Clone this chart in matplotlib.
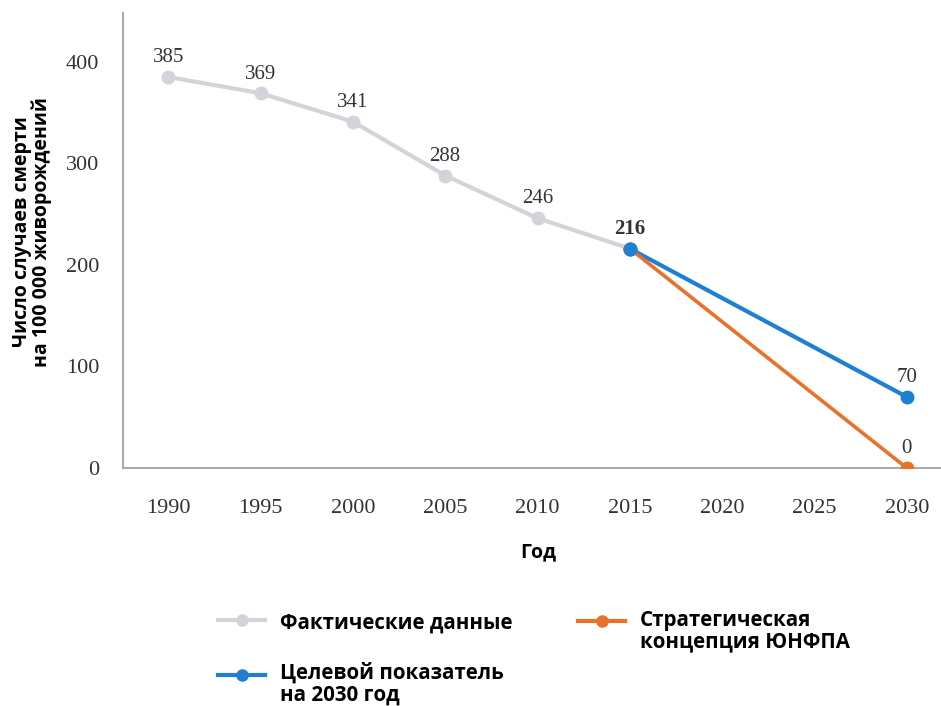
import numpy as np
import matplotlib
matplotlib.use('Agg')
import matplotlib.pyplot as plt
from matplotlib.lines import Line2D

# data
years_actual = [1990, 1995, 2000, 2005, 2010, 2015]
values_actual = [385, 369, 341, 288, 246, 216]
years_target = [2015, 2030]
values_target = [216, 70]
years_strategy = [2015, 2030]
values_strategy = [216, 0]
x_ticks = [1990, 1995, 2000, 2005, 2010, 2015, 2020, 2025, 2030]
y_ticks = [0, 100, 200, 300, 400]

label_actual = 'Фактические данные'
label_target = 'Целевой показатель\nна 2030 год'
label_strategy = 'Стратегическая\nконцепция ЮНФПА'

c_grey = '#d3d3da'
c_blue = '#1f7fd2'
c_orange = '#ea7129'

serif = ['Liberation Serif', 'DejaVu Serif']
sans = ['Open Sans', 'Noto Sans', 'DejaVu Sans']

W, H = 941, 706
fig = plt.figure(figsize=(W / 100, H / 100), dpi=100)
ax = fig.add_axes([123 / W, 1 - 468 / H, 817 / W, 455 / H])

ax.plot(years_actual, values_actual, '-o', color=c_grey, lw=3, ms=9, zorder=2)
ax.plot(years_target, values_target, '-o', color=c_blue, lw=3, ms=9, zorder=3)
ax.plot(years_strategy, values_strategy, '-o', color=c_orange, lw=2.6, ms=9, zorder=3)
# redraw 2015 point in blue on top
ax.plot(years_target[:1], values_target[:1], 'o', color=c_blue, ms=9, zorder=4)

for x, y in zip(years_actual, values_actual):
    ax.annotate(str(y), (x, y), xytext=(0, 7), textcoords='offset points',
                ha='center', va='bottom', fontsize=15, family=serif,
                color='#333333', fontweight='bold' if x == 2015 else 'normal')
for x, y in [(years_target[-1], values_target[-1]), (years_strategy[-1], values_strategy[-1])]:
    ax.annotate(str(y), (x, y), xytext=(0, 7), textcoords='offset points',
                ha='center', va='bottom', fontsize=15, family=serif, color='#333333')

ax.set_xlim(1987.55, 2031.8)
ax.set_ylim(0, 448)
ax.set_xticks(x_ticks)
ax.set_yticks(y_ticks)
ax.tick_params(length=0, labelsize=16, colors='#333333')
ax.tick_params(axis='x', pad=22)
ax.tick_params(axis='y', pad=17)
for lab in ax.get_xticklabels() + ax.get_yticklabels():
    lab.set_family(serif)
for s in ['top', 'right']:
    ax.spines[s].set_visible(False)
for s in ['left', 'bottom']:
    ax.spines[s].set_color('#aaaaaa')
    ax.spines[s].set_linewidth(1.5)

# axis titles
fig.text(32 / W, 1 - 232 / H, 'Число случаев смерти\nна 100 000 живорождений',
         rotation=90, ha='center', va='center', multialignment='center',
         fontsize=14, fontweight='bold', family=sans, linespacing=1.0)
fig.text(538 / W, 1 - 552 / H, 'Год', ha='center', va='center',
         fontsize=14, fontweight='bold', family=sans)

# legend drawn by hand to follow the reference layout
def legend_item(x0, y0, color, text, ty):
    xs = np.array([x0, x0 + 47]) / W
    fig.add_artist(Line2D(xs, [1 - y0 / H] * 2, color=color, lw=3,
                          transform=fig.transFigure))
    fig.add_artist(Line2D([xs.mean()], [1 - y0 / H], marker='o', ms=8,
                          color=color, transform=fig.transFigure))
    fig.text((x0 + 62) / W, 1 - ty / H, text, ha='left', va='top',
             fontsize=14.8, fontweight='bold', family=sans, linespacing=1.05)

legend_item(218, 620, c_grey, label_actual, 613)
legend_item(578, 621, c_orange, label_strategy, 610)
legend_item(218, 675, c_blue, label_target, 662)

fig.savefig('out.png', dpi=100)
